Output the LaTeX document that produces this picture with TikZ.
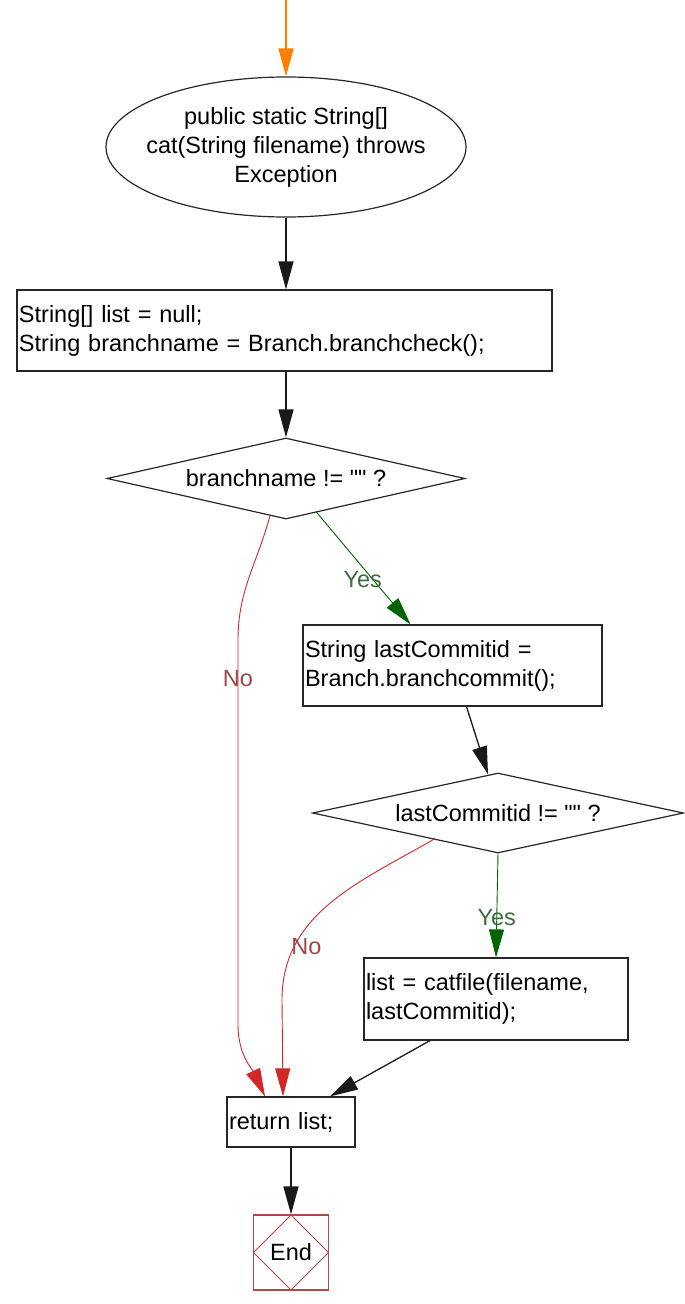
\documentclass[tikz,border=0pt]{standalone}
\usepackage{xcolor}
\usepackage{fontspec}
\setmainfont{Liberation Sans}[Ligatures=TeXOff]
\usetikzlibrary{shapes.geometric,arrows.meta,positioning}
\definecolor{edgered}{HTML}{D42626}
\definecolor{edgegreen}{HTML}{006400}
\definecolor{nolabel}{HTML}{9E4646}
\definecolor{yeslabel}{HTML}{3E6B3E}
\definecolor{endred}{HTML}{B04A4A}
\tikzset{
  every node/.style={font=\fontsize{23.5}{29}\selectfont},
  codebox/.style={rectangle, draw=black!85, line width=1.2pt, inner xsep=2pt, inner ysep=0pt, align=left, text width=#1},
  decision/.style={diamond, aspect=4.4, draw=black!85, line width=1.2pt, inner sep=0pt, align=center},
  flow/.style={-{Triangle[length=28pt,width=15pt]}, line width=1.3pt, black!90}
}

\begin{document}
\begin{tikzpicture}[x=1pt, y=-1pt]
        % Fix the page to the reference size
        \useasboundingbox (0,0) rectangle (685,1304);

        % Create nodes at their places
        \coordinate (start) at (286,0);

        \node[ellipse, draw=black!85, line width=1.2pt, minimum width=360pt, minimum height=140pt, inner xsep=-40pt, inner ysep=0pt, align=center] (entry) at (286,147) {public static String[]\\cat(String filename) throws\\Exception};

        \node[codebox=531pt, minimum height=81pt] (init) at (284.5,330.5) {String[] list = null;\\String branchname = Branch.branchcheck();};

        \node[decision, minimum width=358pt, minimum height=81pt] (check1) at (286,478.5) {branchname != "" ?};

        \node[codebox=295pt, minimum height=81pt] (lastid) at (452.5,665.5) {String lastCommitid =\\Branch.branchcommit();};

        \node[decision, minimum width=371pt, minimum height=80pt] (check2) at (498,813) {lastCommitid != "" ?};

        \node[codebox=260pt, minimum height=82pt] (catfile) at (496,999) {list = catfile(filename,\\lastCommitid);};

        \node[codebox=124pt, minimum height=50pt] (ret) at (291,1122) {return list;};

        \node[rectangle, draw=endred, line width=1.2pt, minimum size=75pt, inner sep=0pt,
              path picture={\draw[endred, line width=1pt] (path picture bounding box.north) -- (path picture bounding box.east) -- (path picture bounding box.south) -- (path picture bounding box.west) -- cycle;}] (finish) at (291,1252.5) {End};

        % Connect nodes with arrows
        \draw[flow, color=orange] (start) -- (entry.north);

        \draw[flow] (entry.south) -- (entry.south |- init.north);

        \draw[flow] (init.south -| check1.north) -- (check1.north);

        \draw[flow, line width=0.9pt, color=edgegreen] ([xshift=30pt,yshift=8pt]check1.south) to node[pos=0.6, xshift=-10pt, text=yeslabel] {Yes} ([xshift=-42pt]lastid.north);

        \draw[flow] ([xshift=14pt]lastid.south) -- ([xshift=-10pt,yshift=-2pt]check2.north);

        \draw[flow, line width=0.9pt, color=edgegreen] (check2.south) to node[pos=0.62, text=yeslabel] {Yes} (catfile.north);

        \draw[flow] ([xshift=-66pt]catfile.south) -- ([xshift=39pt]ret.north);

        % The two No branches
        \draw[flow, line width=0.9pt, color=edgered] ([xshift=-16pt,yshift=4pt]check1.south) to[out=-105, in=90] (238,640) -- node[pos=0.1, text=nolabel] {No} (238,1025) to[out=-90, in=115] ([xshift=-26pt]ret.north);

        \draw[flow, line width=0.9pt, color=edgered] ([xshift=-63pt,yshift=15pt]check2.south) to[out=-150, in=90] node[pos=0.76, xshift=12pt, text=nolabel] {No} (282,1000) -- ([xshift=-8pt]ret.north);

        \draw[flow] (ret.south) -- (finish.north);
    \end{tikzpicture}
\end{document}
